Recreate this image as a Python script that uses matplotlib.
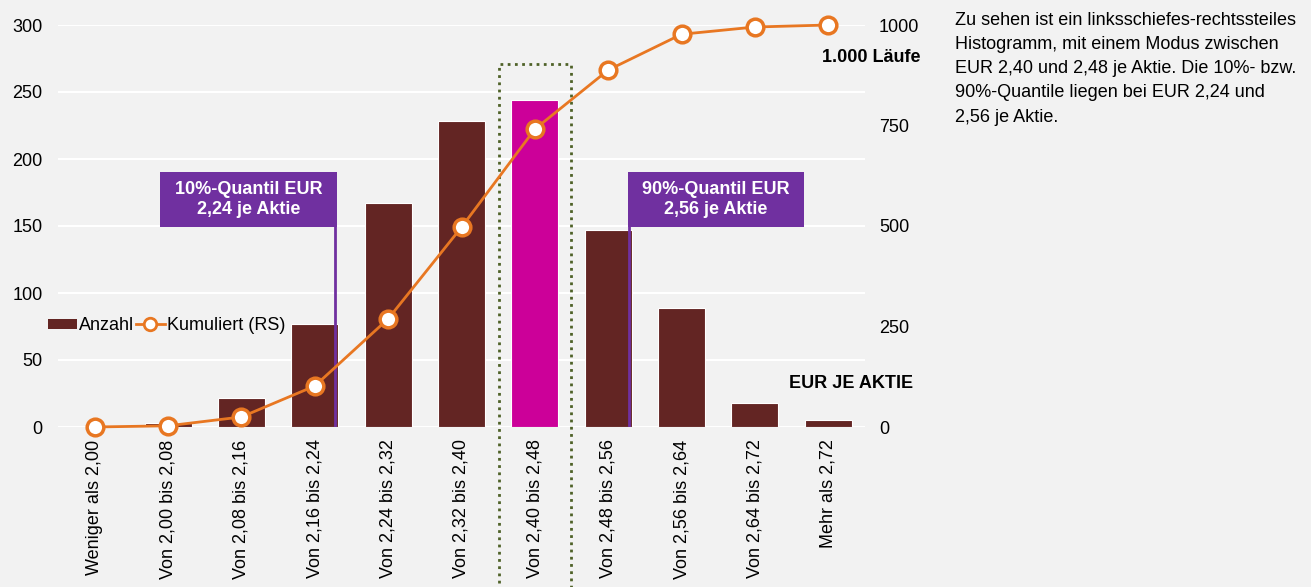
import numpy as np
import matplotlib.pyplot as plt
from matplotlib.patches import Rectangle
from matplotlib.lines import Line2D

plt.rcParams['font.family'] = ['Liberation Sans', 'DejaVu Sans']

categories = ["Weniger als 2,00", "Von 2,00 bis 2,08", "Von 2,08 bis 2,16",
              "Von 2,16 bis 2,24", "Von 2,24 bis 2,32", "Von 2,32 bis 2,40",
              "Von 2,40 bis 2,48", "Von 2,48 bis 2,56", "Von 2,56 bis 2,64",
              "Von 2,64 bis 2,72", "Mehr als 2,72"]
anzahl = [0, 3, 22, 77, 167, 228, 244, 147, 89, 18, 5]
kumuliert = np.cumsum(anzahl)
modus_idx = 6
q10_pos = 3.28   # 10% quantile line (category units)
q90_pos = 7.28   # 90% quantile line

bg = "#f2f2f2"
bar_col = "#632523"
hi_col = "#cc0099"
line_col = "#e87722"
purple = "#7030a0"
fs = 13

fig = plt.figure(figsize=(13.11, 5.87), dpi=100, facecolor=bg)
ax = fig.add_axes([58/1311, 1-427/587, 807/1311, 402/587])
ax.set_facecolor(bg)
x = np.arange(len(categories))
colors = [hi_col if i == modus_idx else bar_col for i in x]
bars = ax.bar(x, anzahl, width=0.64, color=colors, edgecolor="white", linewidth=0.8,
              zorder=2)
ax.set_xlim(-0.5, len(categories) - 0.5)
ax.set_ylim(0, 300)
ax.set_yticks(range(0, 301, 50))
ax.grid(axis="y", color="white", linewidth=1.5, zorder=0)
ax.set_axisbelow(True)
for s in ax.spines.values():
    s.set_visible(False)
ax.tick_params(axis="both", length=0, labelsize=fs)
ax.tick_params(axis="y", pad=11)
ax.tick_params(axis="x", pad=9)
ax.set_xticks(x)
ax.set_xticklabels(categories, rotation=90)

ax2 = ax.twinx()
ax2.set_ylim(0, 1000)
ax2.set_yticks([0, 250, 500, 750, 1000])
for s in ax2.spines.values():
    s.set_visible(False)
ax2.tick_params(axis="y", length=0, labelsize=fs, pad=10)
ax2.plot(x, kumuliert, color=line_col, linewidth=2, marker="o", markersize=12,
         markerfacecolor="white", markeredgecolor=line_col, markeredgewidth=2.5,
         zorder=5, clip_on=False)

# quantile lines and label boxes (box x-range in data units)
quantiles = [(q10_pos, "10%-Quantil EUR\n2,24 je Aktie", 0.89, 3.30),
             (q90_pos, "90%-Quantil EUR\n2,56 je Aktie", 7.27, 9.67)]
for pos, txt, x0, x1 in quantiles:
    ax.plot([pos, pos], [0, 150], color=purple, linewidth=2, zorder=3)
    ax.add_patch(Rectangle((x0, 149.5), x1 - x0, 41, facecolor=purple, edgecolor="none",
                           zorder=6))
    ax.text((x0 + x1) / 2, 170, txt, ha="center", va="center", color="white",
            fontsize=fs, fontweight="bold", linespacing=1.2, zorder=7)

# dotted frame around modal class
ax.add_patch(Rectangle((modus_idx - 0.49, -170), 0.98, 441, fill=False, edgecolor="#4f6228",
                       linestyle=(0, (1, 1.6)), linewidth=2, clip_on=False, zorder=4))

h_bar = Rectangle((0, 0), 1, 1, facecolor=bar_col, edgecolor="none")
h_line = Line2D([], [], color=line_col, linewidth=2, marker="o", markersize=9,
                markerfacecolor="white", markeredgecolor=line_col, markeredgewidth=2)
ax.legend([h_bar, h_line], ["Anzahl", "Kumuliert (RS)"], loc="center left",
          bbox_to_anchor=(-0.021, 0.252), frameon=False, fontsize=fs,
          handlelength=1.6, handleheight=0.5, handletextpad=0.1, columnspacing=0.1,
          ncol=2, borderaxespad=0)

fig.text(920/1311, 1-58/587, "1.000 Läufe", ha="right", va="center",
         fontsize=fs, fontweight="bold")
fig.text(913/1311, 1-383/587, "EUR JE AKTIE", ha="right", va="center",
         fontsize=fs, fontweight="bold")
fig.text(955/1311, 1-12/587,
         "Zu sehen ist ein linksschiefes-rechtssteiles\nHistogramm, mit einem Modus zwischen\n"
         "EUR 2,40 und 2,48 je Aktie. Die 10%- bzw.\n90%-Quantile liegen bei EUR 2,24 und\n"
         "2,56 je Aktie.", ha="left", va="top", fontsize=fs, linespacing=1.55)

fig.savefig("out.png", dpi=100, facecolor=bg)
